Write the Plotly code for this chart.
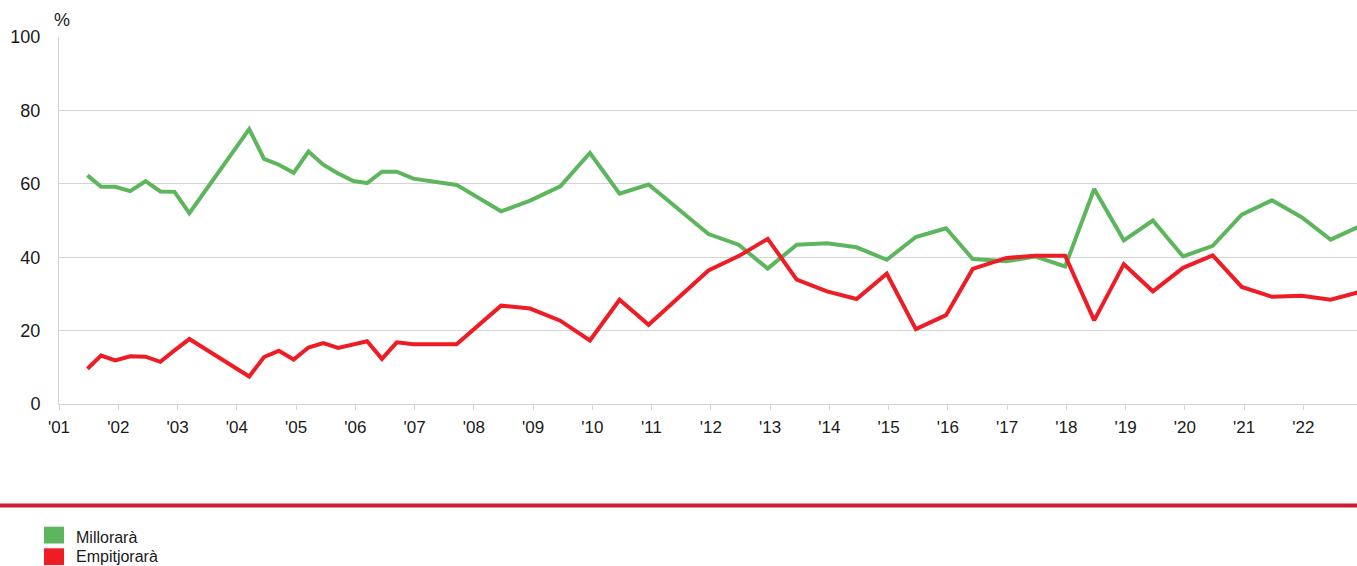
import plotly.graph_objects as go

# ! Survey data (share of answers, %)
dates_a = [2001.48, 2001.71, 2001.95, 2002.20, 2002.46, 2002.71, 2002.95, 2003.20,
           2004.21, 2004.46, 2004.71, 2004.96, 2005.21, 2005.46, 2005.71, 2005.96,
           2006.20, 2006.45, 2006.70, 2006.98, 2007.71, 2008.46, 2008.95, 2009.46,
           2009.96, 2010.46, 2010.95, 2011.96, 2012.47, 2012.96, 2013.45, 2013.96,
           2014.46, 2014.97, 2015.46, 2015.97, 2016.42, 2016.99, 2017.47, 2017.98,
           2018.47, 2018.97, 2019.46, 2019.97, 2020.47, 2020.96, 2021.47, 2021.97,
           2022.46, 2022.96]

millorara = [62.3, 59.2, 59.2, 58.0, 60.7, 57.9, 57.8, 52.0,
             74.9, 66.8, 65.2, 63.0, 68.8, 65.2, 62.8, 60.8,
             60.2, 63.3, 63.3, 61.4, 59.7, 52.5, 55.4, 59.3,
             68.4, 57.3, 59.8, 46.3, 43.4, 36.9, 43.4, 43.8,
             42.7, 39.3, 45.5, 47.9, 39.5, 38.9, 40.2, 37.5,
             58.6, 44.6, 50.0, 40.2, 43.1, 51.6, 55.5, 50.9,
             44.8, 48.5]

empitjorara = [9.6, 13.2, 11.9, 13.0, 12.9, 11.5, 14.6, 17.7,
               7.5, 12.8, 14.5, 12.1, 15.4, 16.6, 15.3, 16.3,
               17.1, 12.3, 16.8, 16.3, 16.3, 26.8, 26.0, 22.7,
               17.3, 28.4, 21.6, 36.4, 40.3, 45.0, 33.9, 30.7,
               28.6, 35.5, 20.4, 24.2, 36.8, 39.8, 40.4, 40.4,
               22.8, 38.1, 30.7, 37.1, 40.5, 31.9, 29.2, 29.5,
               28.4, 30.6]

years = list(range(2001, 2023))
year_labels = ["'" + str(y)[2:] for y in years]
y_ticks = [0, 20, 40, 60, 80, 100]

series_names = ["Millorarà", "Empitjorarà"]

GREEN = "#5DB65D"
RED = "#EE1C25"
BAND_RED = "#D11A30"
GRID = "#D4D4D4"
FONT = "Liberation Sans, Arial, sans-serif"

# plot area in pixels
L, T, B = 59, 37, 404
W, H = 1357, 566
PW = W - L
PH = B - T


def px_x(p):
    return (p - L) / PW


def px_y(p):
    return (B - p) / PH


fig = go.Figure()
fig.add_trace(go.Scatter(x=dates_a, y=millorara, mode="lines", name=series_names[0],
                         line=dict(color=GREEN, width=4), showlegend=False))
fig.add_trace(go.Scatter(x=dates_a, y=empitjorara, mode="lines", name=series_names[1],
                         line=dict(color=RED, width=4), showlegend=False))

fig.update_layout(
    width=W, height=H,
    margin=dict(l=L, r=W - L - PW, t=T, b=H - B),
    plot_bgcolor="white", paper_bgcolor="white",
    font=dict(family=FONT, size=17, color="#1a1a1a"),
    showlegend=False,
)
fig.update_xaxes(range=[2001, 2022.905], tickvals=years, ticktext=year_labels,
                 showgrid=False, showline=True, linecolor=GRID, linewidth=1,
                 ticks="outside", ticklen=5, tickcolor=GRID, zeroline=False,
                 tickfont=dict(size=17), ticklabelstandoff=3)
fig.update_yaxes(range=[0, 100], tickvals=y_ticks, showgrid=True, gridcolor=GRID,
                 gridwidth=1, showline=True, linecolor=GRID, zeroline=False,
                 ticks="", ticklabelstandoff=14, tickfont=dict(size=18))

# ! "%" unit label
fig.add_annotation(text="%", xref="paper", yref="paper", x=px_x(52), y=px_y(20),
                   xanchor="left", yanchor="middle", showarrow=False,
                   font=dict(size=18))

# ! red separator band
fig.add_shape(type="rect", xref="paper", yref="paper",
              x0=px_x(0), x1=px_x(W), y0=px_y(507.5), y1=px_y(503.5),
              fillcolor=BAND_RED, line=dict(width=0), layer="above")

# ! legend (squares + labels)
for i, (name, col) in enumerate(zip(series_names, [GREEN, RED])):
    top = 526.7 + i * 21.6
    fig.add_shape(type="rect", xref="paper", yref="paper",
                  x0=px_x(44), x1=px_x(64), y0=px_y(top + 16.8), y1=px_y(top),
                  fillcolor=col, line=dict(width=0))
    fig.add_annotation(text=name, xref="paper", yref="paper",
                       x=px_x(74), y=px_y(537 + i * 19.5), xanchor="left",
                       yanchor="middle", showarrow=False,
                       font=dict(size=16, color="#1a1a1a"))

# body margin of the page would shift the chart by 8px
fig.write_html("out.html", config={"displayModeBar": False},
               post_script="document.body.style.margin='0';document.body.style.overflow='hidden';")
